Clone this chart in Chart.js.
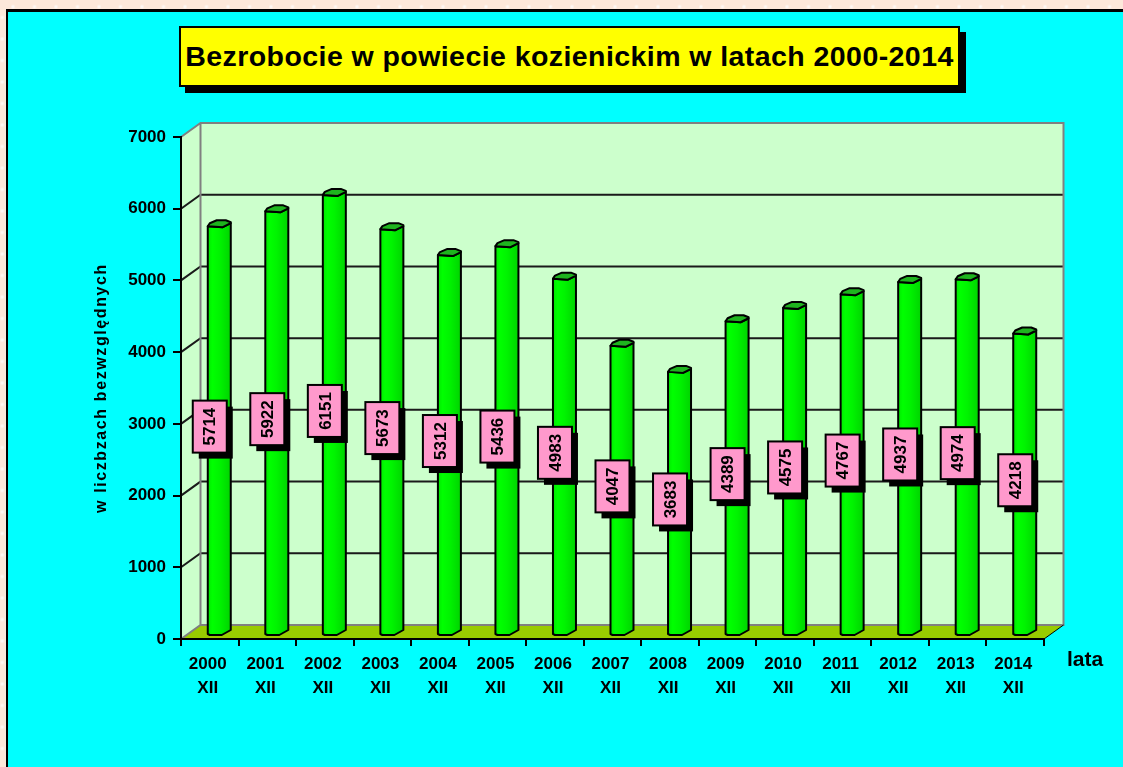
<!DOCTYPE html>
<html lang="pl">
<head>
<meta charset="utf-8">
<title>Bezrobocie w powiecie kozienickim</title>
<script src="https://cdn.jsdelivr.net/npm/chart.js@4/dist/chart.umd.min.js"></script>
<style>
    html, body { margin: 0; width: 1123px; height: 767px; overflow: hidden; }
    body {
        background-color: #fde8da;
        background-image:
            radial-gradient(circle, #ffffff 0, rgba(255,255,255,0) 2.5px),
            radial-gradient(circle, #ffffff 0, rgba(255,255,255,0) 2.5px);
        background-size: 21.5px 21.5px;
        background-position: 2.25px -4px, 13px 6.75px;
    }
    #panel {
        position: absolute; left: 6px; top: 9px; width: 1300px; height: 900px;
        background: #00ffff; border-left: 2px solid #000; border-top: 3px solid #000;
    }
    #tytul {
        position: absolute; left: 179px; top: 26px; width: 777px; height: 57px;
        background: #ffff00; border: 2px solid #000; box-shadow: 6px 6px 0 #000;
        font: bold 28.5px/57px "Liberation Sans", Arial, sans-serif; color: #000;
        letter-spacing: 0.43px; text-align: center; white-space: nowrap;
    }
    #wykres { position: absolute; left: 0; top: 0; }
</style>
</head>
<body>
<div id="panel"></div>
<div id="tytul">Bezrobocie w powiecie kozienickim w latach 2000-2014</div>
<canvas id="wykres" width="1123" height="767"></canvas>
<script>
const lata = ["2000", "2001", "2002", "2003", "2004", "2005", "2006", "2007", "2008", "2009", "2010", "2011", "2012", "2013", "2014"];
const miesiac = "XII";
const bezrobotni = [5714, 5922, 6151, 5673, 5312, 5436, 4983, 4047, 3683, 4389, 4575, 4767, 4937, 4974, 4218];
const osY = [0, 1000, 2000, 3000, 4000, 5000, 6000, 7000];
const tytulOsiY = "w liczbzach bezwzględnych";
const tytulOsiX = "lata";

const czcionka = '"Liberation Sans", Arial, sans-serif';

// glebokosc "3D" sciany
const DX = 19.5;
const DY = -14;

const sciany = {
    id: "sciany",
    beforeDraw(chart) {
        const ctx = chart.ctx;
        const a = chart.chartArea;
        const y = chart.scales.y;
        ctx.save();

        // sciana tylna i lewa
        ctx.fillStyle = "#ccffcc";
        ctx.fillRect(a.left + DX, a.top + DY, a.width, a.height);
        ctx.beginPath();
        ctx.moveTo(a.left, a.top);
        ctx.lineTo(a.left + DX, a.top + DY);
        ctx.lineTo(a.left + DX, a.bottom + DY);
        ctx.lineTo(a.left, a.bottom);
        ctx.closePath();
        ctx.fill();

        // podloga
        ctx.fillStyle = "#99cc00";
        ctx.beginPath();
        ctx.moveTo(a.left, a.bottom);
        ctx.lineTo(a.left + DX, a.bottom + DY);
        ctx.lineTo(a.right + DX, a.bottom + DY);
        ctx.lineTo(a.right, a.bottom);
        ctx.closePath();
        ctx.fill();

        // linie siatki
        ctx.strokeStyle = "#1a1a1a";
        ctx.lineWidth = 2;
        osY.slice(1, -1).forEach(function (v) {
            const py = y.getPixelForValue(v);
            ctx.beginPath();
            ctx.moveTo(a.left, py);
            ctx.lineTo(a.left + DX, py + DY);
            ctx.lineTo(a.right + DX, py + DY);
            ctx.stroke();
        });

        // szara ramka scian
        ctx.strokeStyle = "#808080";
        ctx.lineWidth = 2;
        ctx.beginPath();
        ctx.moveTo(a.left, a.top);
        ctx.lineTo(a.left + DX, a.top + DY);
        ctx.lineTo(a.right + DX, a.top + DY);
        ctx.lineTo(a.right + DX, a.bottom + DY);
        ctx.lineTo(a.left + DX, a.bottom + DY);
        ctx.lineTo(a.left, a.bottom);
        ctx.moveTo(a.left + DX, a.top + DY);
        ctx.lineTo(a.left + DX, a.bottom + DY);
        ctx.stroke();

        // prawa krawedz podlogi
        ctx.strokeStyle = "#000";
        ctx.lineWidth = 1;
        ctx.beginPath();
        ctx.moveTo(a.right, a.bottom);
        ctx.lineTo(a.right + DX, a.bottom + DY);
        ctx.stroke();

        ctx.restore();
    }
};

// slupki rysowane na podstawie elementow policzonych przez Chart.js
const slupki3d = {
    id: "slupki3d",
    beforeDatasetDraw(chart, args) {
        const ctx = chart.ctx;
        ctx.save();
        ctx.strokeStyle = "#000";
        ctx.lineWidth = 2;
        ctx.lineJoin = "round";
        args.meta.data.forEach(function (el) {
            const x0 = el.x + 9.5 - el.width / 2;
            const x1 = x0 + el.width;
            const top = el.y - 3;
            const bot = el.base - 3;

            const g = ctx.createLinearGradient(x0, 0, x1, 0);
            g.addColorStop(0, "#00e800");
            g.addColorStop(0.2, "#00ff00");
            g.addColorStop(0.5, "#00f400");
            g.addColorStop(0.75, "#00e400");
            g.addColorStop(1, "#00d400");

            ctx.fillStyle = g;
            ctx.beginPath();
            ctx.moveTo(x0, top);
            ctx.lineTo(x0, bot - 1);
            ctx.lineTo(x0 + 2, bot);
            ctx.lineTo(x0 + 14, bot);
            ctx.lineTo(x1, bot - 5);
            ctx.lineTo(x1, top - 3);
            ctx.lineTo(x0 + 15, top + 1);
            ctx.closePath();
            ctx.fill();
            ctx.stroke();

            ctx.fillStyle = "#1eb41e";
            ctx.beginPath();
            ctx.moveTo(x0, top);
            ctx.lineTo(x0 + 2, top - 3);
            ctx.lineTo(x0 + 9, top - 6);
            ctx.lineTo(x0 + 18, top - 6);
            ctx.lineTo(x1, top - 4);
            ctx.lineTo(x1, top - 3);
            ctx.lineTo(x0 + 15, top + 1);
            ctx.closePath();
            ctx.fill();
            ctx.stroke();
        });
        ctx.restore();
        return false;
    }
};

const etykiety = {
    id: "etykiety",
    afterDatasetsDraw(chart) {
        const ctx = chart.ctx;
        const y = chart.scales.y;
        const meta = chart.getDatasetMeta(0);
        ctx.save();
        meta.data.forEach(function (el, i) {
            const cx = el.x;
            const cy = y.getPixelForValue(bezrobotni[i] / 2) - 7.5;
            ctx.fillStyle = "#000";
            ctx.fillRect(cx - 11, cy - 20, 34, 52);
            ctx.fillStyle = "#ff99cc";
            ctx.strokeStyle = "#000";
            ctx.lineWidth = 2;
            ctx.fillRect(cx - 17, cy - 26, 34, 52);
            ctx.strokeRect(cx - 17, cy - 26, 34, 52);

            ctx.save();
            ctx.translate(cx, cy);
            ctx.rotate(-Math.PI / 2);
            ctx.fillStyle = "#000";
            ctx.font = "bold 17px " + czcionka;
            ctx.textAlign = "center";
            ctx.textBaseline = "middle";
            ctx.fillText(String(bezrobotni[i]), 0, 1);
            ctx.restore();
        });

        // opisy osi
        ctx.fillStyle = "#000";
        ctx.font = "bold 21px " + czcionka;
        ctx.textAlign = "left";
        ctx.textBaseline = "middle";
        ctx.fillText(tytulOsiX, 1067, 660);

        ctx.translate(102, 388);
        ctx.rotate(-Math.PI / 2);
        ctx.font = "bold 16px " + czcionka;
        ctx.letterSpacing = "1.6px";
        ctx.textAlign = "center";
        ctx.fillText(tytulOsiY, 0, 0);
        ctx.restore();
    }
};

new Chart(document.getElementById("wykres"), {
    type: "bar",
    data: {
        labels: lata.map(function (r) { return [r, miesiac]; }),
        datasets: [{
            label: "Bezrobotni",
            data: bezrobotni,
            backgroundColor: "#00ff00",
            barThickness: 23
        }]
    },
    options: {
        responsive: false,
        animation: false,
        layout: { padding: { left: 0, top: 137, right: 79, bottom: 0 } },
        plugins: {
            legend: { display: false },
            title: { display: false },
            tooltip: { enabled: false }
        },
        scales: {
            x: {
                afterFit(scale) { scale.height = 128; },
                grid: { offset: true, drawOnChartArea: false, color: "#000", lineWidth: 2, tickLength: 7 },
                border: { color: "#000", width: 2 },
                ticks: {
                    color: "#000",
                    padding: 6,
                    labelOffset: -2,
                    maxRotation: 0,
                    autoSkip: false,
                    font: { family: czcionka, weight: "bold", size: 17, lineHeight: 1.41 }
                }
            },
            y: {
                min: 0,
                max: 7000,
                afterFit(scale) { scale.width = 181; },
                afterBuildTicks(scale) {
                    scale.ticks = osY.map(function (v) { return { value: v }; });
                },
                grid: { drawOnChartArea: false, color: "#000", lineWidth: 2, tickLength: 8 },
                border: { color: "#000", width: 2 },
                ticks: {
                    color: "#000",
                    padding: 7,
                    callback: function (v) { return String(v); },
                    font: { family: czcionka, weight: "bold", size: 17 }
                }
            }
        }
    },
    plugins: [sciany, slupki3d, etykiety]
});
</script>
</body>
</html>
